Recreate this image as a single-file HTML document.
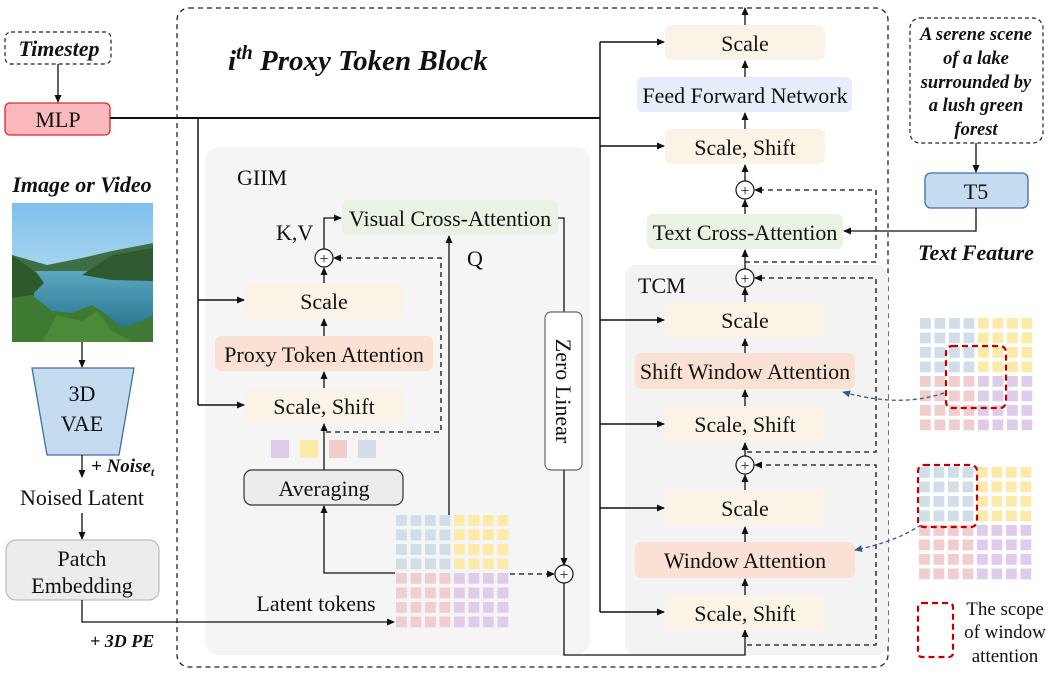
<!DOCTYPE html>
<html><head><meta charset="utf-8"><style>
html,body{margin:0;padding:0;background:#fff;}
svg{display:block;}
text{font-family:"Liberation Serif",serif;fill:#111;}
.b{font-size:22px;text-anchor:middle;}
.bi{font-weight:bold;font-style:italic;}
</style></head><body>
<svg width="1051" height="683" viewBox="0 0 1051 683" xmlns="http://www.w3.org/2000/svg">
<defs>
<marker id="ar" markerWidth="8" markerHeight="8" refX="7" refY="4" orient="auto" markerUnits="userSpaceOnUse"><path d="M0,0.5 L8,4 L0,7.5 Z" fill="#111"/></marker>
<marker id="arb" markerWidth="8" markerHeight="8" refX="7" refY="4" orient="auto" markerUnits="userSpaceOnUse"><path d="M0,0.5 L8,4 L0,7.5 Z" fill="#2f5f8f"/></marker>
<pattern id="pB" width="14.5" height="14.5" patternUnits="userSpaceOnUse"><rect width="10.8" height="10.8" fill="#cfdee9"/></pattern>
<pattern id="pY" width="14.5" height="14.5" patternUnits="userSpaceOnUse"><rect width="10.8" height="10.8" fill="#fde9a8"/></pattern>
<pattern id="pR" width="14.5" height="14.5" patternUnits="userSpaceOnUse"><rect width="10.8" height="10.8" fill="#f1cdcd"/></pattern>
<pattern id="pP" width="14.5" height="14.5" patternUnits="userSpaceOnUse"><rect width="10.8" height="10.8" fill="#dfcbea"/></pattern>
<linearGradient id="sky" x1="0" y1="0" x2="0" y2="1"><stop offset="0" stop-color="#7fc0ea"/><stop offset="1" stop-color="#d2ebf5"/></linearGradient>
<linearGradient id="wat" x1="0" y1="0" x2="0" y2="1"><stop offset="0" stop-color="#5aa9c0"/><stop offset="1" stop-color="#1d6a85"/></linearGradient>
</defs>

<rect x="177" y="8" width="711" height="659" rx="12" fill="none" stroke="#222" stroke-width="1.3" stroke-dasharray="5,4"/>
<rect x="205" y="147" width="385" height="508" rx="14" fill="#f5f5f5"/>
<rect x="625" y="265" width="263" height="390" rx="12" fill="#f3f3f3"/>

<text x="228" y="70" font-size="29" class="bi">i<tspan dy="-11" font-size="20">th</tspan><tspan dy="11"> Proxy Token Block</tspan></text>

<rect x="5" y="32" width="106" height="32" rx="6" fill="#fff" stroke="#222" stroke-width="1.2" stroke-dasharray="4,3"/>
<text x="59" y="56" font-size="22" class="bi" text-anchor="middle">Timestep</text>
<line x1="58" y1="64" x2="58" y2="102" stroke="#111" stroke-width="1.3" marker-end="url(#ar)"/>
<rect x="5" y="103" width="105" height="32" rx="5" fill="#fbb8bd" stroke="#e8232e" stroke-width="1.3"/>
<text x="58" y="127" class="b">MLP</text>
<line x1="110" y1="118" x2="600" y2="118" stroke="#111" stroke-width="2"/>
<polyline points="198,118 198,405" fill="none" stroke="#111" stroke-width="1.5"/>
<line x1="198" y1="300" x2="244" y2="300" stroke="#111" stroke-width="1.5" marker-end="url(#ar)"/>
<line x1="198" y1="405" x2="244" y2="405" stroke="#111" stroke-width="1.5" marker-end="url(#ar)"/>
<line x1="600" y1="42" x2="600" y2="612" stroke="#111" stroke-width="1.5"/>
<line x1="600" y1="42" x2="664" y2="42" stroke="#111" stroke-width="1.5" marker-end="url(#ar)"/>
<line x1="600" y1="146" x2="664" y2="146" stroke="#111" stroke-width="1.5" marker-end="url(#ar)"/>
<line x1="600" y1="320" x2="664" y2="320" stroke="#111" stroke-width="1.5" marker-end="url(#ar)"/>
<line x1="600" y1="424" x2="664" y2="424" stroke="#111" stroke-width="1.5" marker-end="url(#ar)"/>
<line x1="600" y1="508" x2="664" y2="508" stroke="#111" stroke-width="1.5" marker-end="url(#ar)"/>
<line x1="600" y1="612" x2="664" y2="612" stroke="#111" stroke-width="1.5" marker-end="url(#ar)"/>

<text x="82" y="192" font-size="22" class="bi" text-anchor="middle">Image or Video</text>
<svg x="12" y="203" width="141" height="139" viewBox="0 0 141 139">
<rect width="141" height="139" fill="url(#sky)"/>
<path d="M0,52 L35,62 L70,55 L100,48 L141,40 L141,80 L0,80 Z" fill="#3f6e45"/>
<rect x="0" y="68" width="141" height="71" fill="url(#wat)"/>
<path d="M70,72 L100,52 L141,45 L141,78 L100,77 Z" fill="#2f5a30"/>
<path d="M0,52 L25,70 L32,80 L22,90 L18,139 L0,139 Z" fill="#2e5a2b"/>
<path d="M0,139 L0,95 L20,92 L40,108 L60,110 L80,102 L95,112 L110,125 L130,118 L141,112 L141,139 Z" fill="#3e7a32"/>
<path d="M30,139 L45,112 L70,118 L85,108 L100,128 L120,139 Z" fill="#4c8a3a"/>
</svg>
<line x1="82" y1="342" x2="82" y2="367" stroke="#111" stroke-width="1.3" marker-end="url(#ar)"/>
<polygon points="32,368 134,368 119,455 47,455" fill="#c5dcf0" stroke="#3d6fa8" stroke-width="1.3"/>
<text x="82" y="401" class="b">3D</text>
<text x="82" y="431" class="b">VAE</text>
<line x1="82" y1="455" x2="82" y2="477" stroke="#111" stroke-width="1.3" marker-end="url(#ar)"/>
<text x="91" y="472" font-size="19" class="bi">+ Noise<tspan font-size="12" dy="4">t</tspan></text>
<text x="82" y="505" class="b">Noised Latent</text>
<line x1="82" y1="513" x2="82" y2="539" stroke="#111" stroke-width="1.3" marker-end="url(#ar)"/>
<rect x="6" y="540" width="153" height="60" rx="10" fill="#ececec" stroke="#bbb" stroke-width="1.2"/>
<text x="82" y="566" class="b">Patch</text>
<text x="82" y="593" class="b">Embedding</text>
<polyline points="82,600 82,622 394,622" fill="none" stroke="#111" stroke-width="1.3" marker-end="url(#ar)"/>
<text x="90" y="647" font-size="18" class="bi">+ 3D PE</text>
<text x="316" y="611" class="b">Latent tokens</text>

<text x="237" y="185" font-size="22">GIIM</text>
<rect x="342" y="200" width="216" height="35" rx="6" fill="#e9f3e3"/>
<text x="450" y="226" class="b">Visual Cross-Attention</text>
<text x="276" y="240" font-size="22">K,V</text>
<text x="467" y="266" font-size="22">Q</text>
<circle cx="324" cy="258" r="9" fill="#fff" stroke="#111" stroke-width="1.2"/>
<text x="324" y="264" font-size="16" text-anchor="middle">+</text>
<polyline points="324,249 324,218 341,218" fill="none" stroke="#111" stroke-width="1.3" marker-end="url(#ar)"/>
<line x1="324" y1="283" x2="324" y2="268" stroke="#111" stroke-width="1.3" marker-end="url(#ar)"/>
<rect x="245" y="283" width="158" height="35" rx="6" fill="#fbf3e6"/>
<text x="324" y="309" class="b">Scale</text>
<line x1="324" y1="336" x2="324" y2="319" stroke="#111" stroke-width="1.3" marker-end="url(#ar)"/>
<rect x="215" y="336" width="218" height="35" rx="6" fill="#fbe1d3"/>
<text x="324" y="362" class="b">Proxy Token Attention</text>
<line x1="324" y1="388" x2="324" y2="372" stroke="#111" stroke-width="1.3" marker-end="url(#ar)"/>
<rect x="245" y="388" width="158" height="35" rx="6" fill="#fbf3e6"/>
<text x="324" y="414" class="b">Scale, Shift</text>
<rect x="271" y="440" width="18" height="18" fill="#dccbe9"/>
<rect x="300" y="440" width="18" height="18" fill="#fde9a8"/>
<rect x="329" y="440" width="18" height="18" fill="#f3cccc"/>
<rect x="358" y="440" width="18" height="18" fill="#d5dde6"/>
<line x1="324" y1="470" x2="324" y2="424" stroke="#111" stroke-width="1.3" marker-end="url(#ar)"/>
<polyline points="326,432 441,432 441,258 334,258" fill="none" stroke="#111" stroke-width="1.3" stroke-dasharray="5,4" marker-end="url(#ar)"/>
<rect x="244" y="470" width="159" height="35" rx="8" fill="#ececec" stroke="#333" stroke-width="1.2"/>
<text x="324" y="496" class="b">Averaging</text>
<polyline points="395,573 324,573 324,506" fill="none" stroke="#111" stroke-width="1.3" marker-end="url(#ar)"/>
<line x1="449" y1="515" x2="449" y2="236" stroke="#111" stroke-width="1.3" marker-end="url(#ar)"/>
<polyline points="558,218 564,218 564,312" fill="none" stroke="#111" stroke-width="1.3"/>
<rect x="545" y="312" width="37" height="158" rx="6" fill="#fff" stroke="#666" stroke-width="1.2"/>
<text transform="translate(556,391) rotate(90)" class="b">Zero Linear</text>
<line x1="564" y1="470" x2="564" y2="565" stroke="#111" stroke-width="1.3" marker-end="url(#ar)"/>
<line x1="510" y1="574" x2="554" y2="574" stroke="#111" stroke-width="1.3" stroke-dasharray="5,4" marker-end="url(#ar)"/>
<circle cx="564" cy="574" r="9" fill="#fff" stroke="#111" stroke-width="1.2"/>
<text x="564" y="580" font-size="16" text-anchor="middle">+</text>
<polyline points="564,583 564,655 745,655 745,630" fill="none" stroke="#111" stroke-width="1.3" marker-end="url(#ar)"/>

<g transform="translate(396,515)">
<rect x="0" y="0" width="58" height="58" fill="url(#pB)"/><rect x="58" y="0" width="58" height="58" fill="url(#pY)"/>
<rect x="0" y="58" width="58" height="58" fill="url(#pR)"/><rect x="58" y="58" width="58" height="58" fill="url(#pP)"/>
</g>

<line x1="745" y1="25" x2="745" y2="8" stroke="#111" stroke-width="1.3" marker-end="url(#ar)"/>
<rect x="665" y="25" width="160" height="35" rx="6" fill="#fbf3e6"/>
<text x="745" y="51" class="b">Scale</text>
<line x1="745" y1="77" x2="745" y2="61" stroke="#111" stroke-width="1.3" marker-end="url(#ar)"/>
<rect x="637" y="77" width="215" height="35" rx="6" fill="#e5eef9"/>
<text x="745" y="103" class="b">Feed Forward Network</text>
<line x1="745" y1="129" x2="745" y2="113" stroke="#111" stroke-width="1.3" marker-end="url(#ar)"/>
<rect x="665" y="129" width="160" height="35" rx="6" fill="#fbf3e6"/>
<text x="745" y="155" class="b">Scale, Shift</text>
<line x1="745" y1="181" x2="745" y2="165" stroke="#111" stroke-width="1.3" marker-end="url(#ar)"/>
<circle cx="745" cy="190" r="9" fill="#fff" stroke="#111" stroke-width="1.2"/>
<text x="745" y="196" font-size="16" text-anchor="middle">+</text>
<line x1="745" y1="214" x2="745" y2="200" stroke="#111" stroke-width="1.3" marker-end="url(#ar)"/>
<rect x="647" y="214" width="196" height="35" rx="6" fill="#e9f3e3"/>
<text x="745" y="240" class="b">Text Cross-Attention</text>
<line x1="745" y1="269" x2="745" y2="250" stroke="#111" stroke-width="1.3" marker-end="url(#ar)"/>
<polyline points="745,262 876,262 876,190 755,190" fill="none" stroke="#111" stroke-width="1.3" stroke-dasharray="5,4" marker-end="url(#ar)"/>
<circle cx="745" cy="278" r="9" fill="#fff" stroke="#111" stroke-width="1.2"/>
<text x="745" y="284" font-size="16" text-anchor="middle">+</text>
<text x="638" y="293" font-size="22">TCM</text>
<line x1="745" y1="302" x2="745" y2="288" stroke="#111" stroke-width="1.3" marker-end="url(#ar)"/>
<rect x="665" y="302" width="160" height="36" rx="6" fill="#fbf3e6"/>
<text x="745" y="328" class="b">Scale</text>
<line x1="745" y1="353" x2="745" y2="339" stroke="#111" stroke-width="1.3" marker-end="url(#ar)"/>
<rect x="635" y="353" width="220" height="36" rx="6" fill="#fbe1d3"/>
<text x="745" y="379" class="b">Shift Window Attention</text>
<line x1="745" y1="406" x2="745" y2="390" stroke="#111" stroke-width="1.3" marker-end="url(#ar)"/>
<rect x="665" y="406" width="160" height="36" rx="6" fill="#fbf3e6"/>
<text x="745" y="432" class="b">Scale, Shift</text>
<line x1="745" y1="456" x2="745" y2="443" stroke="#111" stroke-width="1.3" marker-end="url(#ar)"/>
<polyline points="747,452 876,452 876,278 755,278" fill="none" stroke="#111" stroke-width="1.3" stroke-dasharray="5,4" marker-end="url(#ar)"/>
<circle cx="745" cy="465" r="9" fill="#fff" stroke="#111" stroke-width="1.2"/>
<text x="745" y="471" font-size="16" text-anchor="middle">+</text>
<line x1="745" y1="490" x2="745" y2="475" stroke="#111" stroke-width="1.3" marker-end="url(#ar)"/>
<rect x="665" y="490" width="160" height="36" rx="6" fill="#fbf3e6"/>
<text x="745" y="516" class="b">Scale</text>
<line x1="745" y1="542" x2="745" y2="527" stroke="#111" stroke-width="1.3" marker-end="url(#ar)"/>
<rect x="635" y="542" width="220" height="36" rx="6" fill="#fbe1d3"/>
<text x="745" y="568" class="b">Window Attention</text>
<line x1="745" y1="595" x2="745" y2="579" stroke="#111" stroke-width="1.3" marker-end="url(#ar)"/>
<rect x="665" y="595" width="160" height="35" rx="6" fill="#fbf3e6"/>
<text x="745" y="621" class="b">Scale, Shift</text>
<polyline points="747,645 876,645 876,465 755,465" fill="none" stroke="#111" stroke-width="1.3" stroke-dasharray="5,4" marker-end="url(#ar)"/>

<rect x="910" y="18" width="133" height="125" rx="10" fill="#fff" stroke="#222" stroke-width="1.2" stroke-dasharray="4,3"/>
<g font-size="18.5" class="bi" text-anchor="middle">
<text x="976" y="40">A serene scene</text>
<text x="976" y="64">of a lake</text>
<text x="976" y="88">surrounded by</text>
<text x="976" y="111">a lush green</text>
<text x="976" y="135">forest</text>
</g>
<line x1="976" y1="143" x2="976" y2="172" stroke="#111" stroke-width="1.3" marker-end="url(#ar)"/>
<rect x="925" y="173" width="103" height="35" rx="6" fill="#c5dcf0" stroke="#3d6fa8" stroke-width="1.3"/>
<text x="976" y="199" class="b">T5</text>
<polyline points="976,208 976,231 844,231" fill="none" stroke="#111" stroke-width="1.3" marker-end="url(#ar)"/>
<text x="976" y="260" font-size="22" class="bi" text-anchor="middle">Text Feature</text>

<g transform="translate(920,318)">
<rect x="0" y="0" width="58" height="58" fill="url(#pB)"/><rect x="58" y="0" width="58" height="58" fill="url(#pY)"/>
<rect x="0" y="58" width="58" height="58" fill="url(#pR)"/><rect x="58" y="58" width="58" height="58" fill="url(#pP)"/>
</g>
<rect x="946" y="346" width="60" height="62" rx="6" fill="none" stroke="#c00000" stroke-width="2.2" stroke-dasharray="6,4"/>
<path d="M944,393 Q900,408 843,392" fill="none" stroke="#2f5f8f" stroke-width="1.3" stroke-dasharray="4,3" marker-end="url(#arb)"/>
<g transform="translate(919,467)">
<rect x="0" y="0" width="58" height="58" fill="url(#pB)"/><rect x="58" y="0" width="58" height="58" fill="url(#pY)"/>
<rect x="0" y="58" width="58" height="58" fill="url(#pR)"/><rect x="58" y="58" width="58" height="58" fill="url(#pP)"/>
</g>
<rect x="918" y="465" width="59" height="62" rx="6" fill="none" stroke="#c00000" stroke-width="2.2" stroke-dasharray="6,4"/>
<path d="M921,525 Q895,542 855,550" fill="none" stroke="#2f5f8f" stroke-width="1.3" stroke-dasharray="4,3" marker-end="url(#arb)"/>
<rect x="918" y="603" width="35" height="54" rx="4" fill="none" stroke="#c00000" stroke-width="2.2" stroke-dasharray="6,4"/>
<g font-size="19" text-anchor="middle">
<text x="1005" y="615">The scope</text>
<text x="1005" y="638">of window</text>
<text x="1005" y="662">attention</text>
</g>
</svg>
</body></html>
